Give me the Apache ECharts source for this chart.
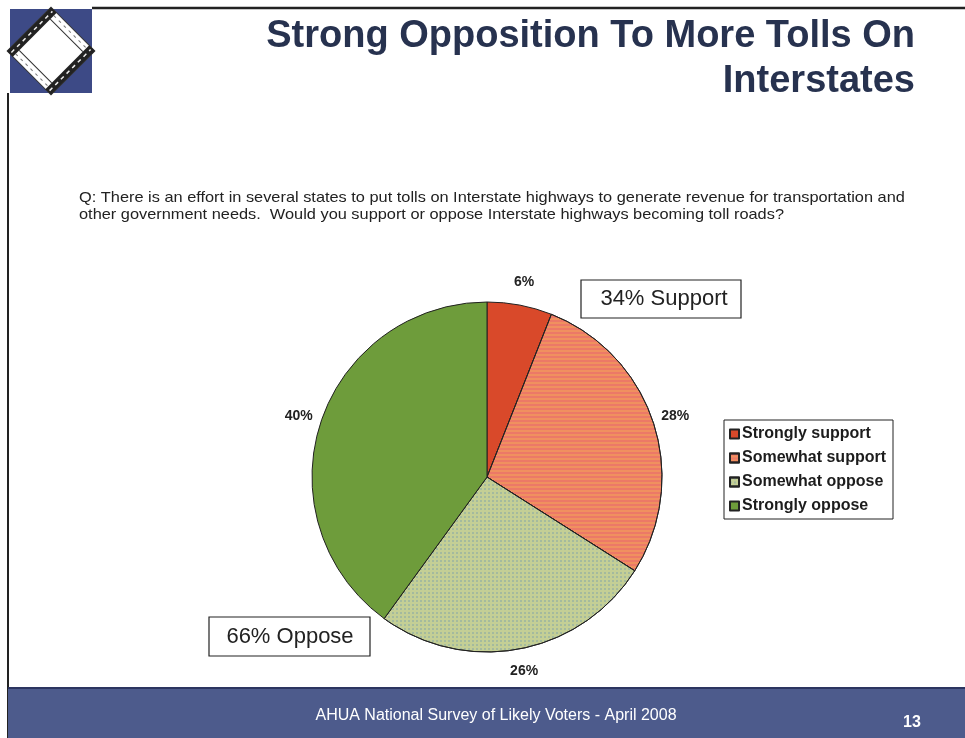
<!DOCTYPE html>
<html>
<head>
<meta charset="utf-8">
<script src="https://cdn.jsdelivr.net/npm/echarts@6/dist/echarts.min.js"></script>
<style>
  html, body { margin: 0; padding: 0; background: #ffffff; }
  #chart { width: 965px; height: 738px; }
</style>
</head>
<body>
<div id="chart"></div>
<script>
// Survey answers, clockwise from 12 o'clock
const categories = ['Strongly support', 'Somewhat support', 'Somewhat oppose', 'Strongly oppose'];
const shares = [6, 28, 26, 40];
const sliceColors = ['#d9492a', '#f0905f', '#c4cf95', '#6e9c3b'];

const titleLines = ['Strong Opposition To More Tolls On', 'Interstates'];
const questionLines = [
  'Q: There is an effort in several states to put tolls on Interstate highways to generate revenue for transportation and',
  'other government needs.  Would you support or oppose Interstate highways becoming toll roads?'
];
const footerText = 'AHUA National Survey of Likely Voters - April 2008';
const pageNumber = '13';
const supportCallout = '34% Support';
const opposeCallout = '66% Oppose';

const decals = [
  null,
  { symbol: 'rect', color: 'rgba(228,70,120,0.32)', dashArrayX: [1, 0], dashArrayY: [2, 2] },
  { symbol: 'rect', color: 'rgba(105,145,175,0.35)', symbolSize: 1, dashArrayX: [2, 2], dashArrayY: [2, 2] },
  null
];

const FONT = '"Liberation Sans", Arial, sans-serif';
const PIE_CENTER = [487, 477];
const PIE_R = 175;

const chart = echarts.init(document.getElementById('chart'), null, { renderer: 'canvas' });

chart.setOption({
  backgroundColor: '#ffffff',
  animation: false,
  legend: {
    orient: 'vertical',
    left: 724,
    top: 420,
    icon: 'rect',
    itemWidth: 9,
    itemHeight: 9,
    itemGap: 6,
    padding: [5, 7, 4, 5],
    borderColor: '#222',
    borderWidth: 1,
    data: categories,
    textStyle: { fontFamily: FONT, fontSize: 16, fontWeight: 'bold', color: '#1c1c1c', padding: [0, 0, 0, -2], lineHeight: 18 }
  },
  series: [
    {
      // the pie itself
      type: 'pie',
      center: PIE_CENTER,
      radius: PIE_R,
      startAngle: 90,
      clockwise: true,
      label: { show: false },
      labelLine: { show: false },
      itemStyle: { borderColor: '#222', borderWidth: 1 },
      emphasis: { disabled: true },
      data: categories.map((name, i) => ({
        name,
        value: shares[i],
        itemStyle: { color: sliceColors[i], decal: decals[i] || undefined }
      }))
    },
    {
      // clear ring around the pie that carries the percentage labels
      type: 'pie',
      center: PIE_CENTER,
      radius: [PIE_R, PIE_R + 40],
      startAngle: 90,
      clockwise: true,
      silent: true,
      avoidLabelOverlap: false,
      itemStyle: { color: 'rgba(0,0,0,0)', borderWidth: 0 },
      label: {
        show: true,
        position: 'inside',
        formatter: '{c}%',
        fontFamily: FONT,
        fontSize: 14,
        fontWeight: 'bold',
        color: '#222'
      },
      labelLine: { show: false },
      emphasis: { disabled: true },
      data: categories.map((name, i) => ({ name, value: shares[i] }))
    }
  ],
  graphic: [
    // page frame lines
    { type: 'line', shape: { x1: 92, y1: 8, x2: 965, y2: 8 }, style: { stroke: '#222', lineWidth: 2.5 } },
    { type: 'line', shape: { x1: 8, y1: 93, x2: 8, y2: 738 }, style: { stroke: '#222', lineWidth: 2 } },
    // corner logo: blue tile with a diagonal road frame
    { type: 'rect', shape: { x: 10, y: 9, width: 82, height: 84 }, style: { fill: '#3d4a86' } },
    {
      type: 'group', x: 51, y: 51, rotation: Math.PI / 4,
      children: [
        { type: 'rect', shape: { x: -31, y: -31, width: 62, height: 62 }, style: { fill: '#ffffff', stroke: '#333', lineWidth: 1 } },
        { type: 'rect', shape: { x: -31, y: -31, width: 62, height: 8 }, style: { fill: '#222' } },
        { type: 'rect', shape: { x: -31, y: 23, width: 62, height: 8 }, style: { fill: '#222' } },
        { type: 'line', shape: { x1: -29, y1: -27, x2: 29, y2: -27 }, style: { stroke: '#eee', lineWidth: 1.5, lineDash: [4, 4] } },
        { type: 'line', shape: { x1: -29, y1: 27, x2: 29, y2: 27 }, style: { stroke: '#eee', lineWidth: 1.5, lineDash: [4, 4] } },
        { type: 'line', shape: { x1: -27, y1: -23, x2: -27, y2: 23 }, style: { stroke: '#777', lineWidth: 1, lineDash: [3, 4] } },
        { type: 'line', shape: { x1: 27, y1: -23, x2: 27, y2: 23 }, style: { stroke: '#777', lineWidth: 1, lineDash: [3, 4] } },
        { type: 'line', shape: { x1: -22, y1: -23, x2: -22, y2: 23 }, style: { stroke: '#333', lineWidth: 1 } },
        { type: 'line', shape: { x1: 22, y1: -23, x2: 22, y2: 23 }, style: { stroke: '#333', lineWidth: 1 } }
      ]
    },
    // title
    { type: 'text', x: 915, y: 37, style: { text: titleLines[0], font: 'bold 38px ' + FONT, fill: '#27324f', textAlign: 'right', textVerticalAlign: 'middle' } },
    { type: 'text', x: 915, y: 82, style: { text: titleLines[1], font: 'bold 38px ' + FONT, fill: '#27324f', textAlign: 'right', textVerticalAlign: 'middle' } },
    // question
    { type: 'text', x: 79, y: 198, scaleX: 1.09, style: { text: questionLines[0], font: '15px ' + FONT, fill: '#222', textVerticalAlign: 'middle' } },
    { type: 'text', x: 79, y: 215, scaleX: 1.09, style: { text: questionLines[1], font: '15px ' + FONT, fill: '#222', textVerticalAlign: 'middle' } },
    // callouts
    { type: 'rect', shape: { x: 581, y: 280, width: 160, height: 38 }, style: { fill: '#fff', stroke: '#222', lineWidth: 1.2 } },
    { type: 'text', x: 664, y: 299, style: { text: supportCallout, font: '22px ' + FONT, fill: '#222', textAlign: 'center', textVerticalAlign: 'middle' } },
    { type: 'rect', shape: { x: 209, y: 617, width: 161, height: 39 }, style: { fill: '#fff', stroke: '#222', lineWidth: 1.2 } },
    { type: 'text', x: 290, y: 637, style: { text: opposeCallout, font: '22px ' + FONT, fill: '#222', textAlign: 'center', textVerticalAlign: 'middle' } },
    // footer band
    { type: 'rect', shape: { x: 8, y: 688, width: 957, height: 50 }, style: { fill: '#4d5b8c' } },
    { type: 'line', shape: { x1: 8, y1: 688, x2: 965, y2: 688 }, style: { stroke: '#2c3560', lineWidth: 2 } },
    { type: 'text', x: 496, y: 716, style: { text: footerText, font: '16px ' + FONT, fill: '#ffffff', textAlign: 'center', textVerticalAlign: 'middle' } },
    { type: 'text', x: 912, y: 723, style: { text: pageNumber, font: 'bold 16px ' + FONT, fill: '#ffffff', textAlign: 'center', textVerticalAlign: 'middle' } }
  ]
});
</script>
</body>
</html>
